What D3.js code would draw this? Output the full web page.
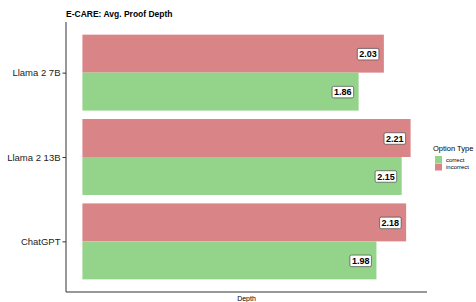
<!DOCTYPE html>
<html><head><meta charset="utf-8">
<script src="https://cdn.jsdelivr.net/npm/d3@7"></script>
<style>body{margin:0;background:#fff}</style>
</head><body>
<svg id="c" width="476" height="302"></svg>
<script>
const categories = ["Llama 2 7B", "Llama 2 13B", "ChatGPT"];
const optionTypes = ["correct", "incorrect"];
const correctValues = [1.86, 2.15, 1.98];
const incorrectValues = [2.03, 2.21, 2.18];
const colors = ["#93d48a", "#d98486"];

const data = [];
categories.forEach((c, i) => {
  data.push({cat: c, type: "incorrect", v: incorrectValues[i]});
  data.push({cat: c, type: "correct", v: correctValues[i]});
});

const svg = d3.select("#c");
const pL = 66, pR = 427, pT = 22, pB = 292;
const maxV = d3.max(data, d => d.v);
const x = d3.scaleLinear().domain([-0.05 * maxV, maxV * 1.05]).range([pL, pR]);
const unit = (pB - pT) / (categories.length - 1 + 1.2);
const y = d3.scalePoint().domain(categories).range([pT + 0.6 * unit, pB - 0.6 * unit]);
const sub = d3.scaleBand().domain(["incorrect", "correct"]).range([-0.45 * unit, 0.45 * unit]);
const color = d3.scaleOrdinal().domain(optionTypes).range(colors);

svg.append("g").selectAll("rect").data(data).join("rect")
  .attr("x", x(0))
  .attr("y", d => y(d.cat) + sub(d.type))
  .attr("width", d => x(d.v) - x(0))
  .attr("height", sub.bandwidth())
  .attr("fill", d => color(d.type));

const lg = svg.append("g").selectAll("g").data(data).join("g")
  .attr("transform", d => `translate(${x(d.v) - 7},${y(d.cat) + sub(d.type) + sub.bandwidth() / 2 + 0.5})`);
lg.each(function(d) {
  const g = d3.select(this);
  const t = g.append("text").text(d.v.toFixed(2))
    .attr("text-anchor", "end").attr("dy", "0.35em")
    .attr("font-family", "Liberation Sans, Arial, sans-serif")
    .attr("font-size", 9).attr("font-weight", "bold").attr("fill", "#000");
  const bb = t.node().getBBox();
  g.insert("rect", "text")
    .attr("x", bb.x - 2).attr("y", -5.75)
    .attr("width", bb.width + 4).attr("height", 11.5)
    .attr("rx", 1.5).attr("fill", "#fff").attr("stroke", "#333").attr("stroke-width", 0.6);
});

const yAxis = d3.axisLeft(y).tickSize(3.5).tickPadding(2);
const ya = svg.append("g").attr("transform", `translate(${pL},0)`).call(yAxis);
ya.select(".domain").attr("d", `M0,${pT}V${pB}`).attr("stroke", "#333");
ya.selectAll(".tick line").attr("stroke", "#333");
ya.selectAll("text").attr("font-family", "Liberation Sans, Arial, sans-serif")
  .attr("font-size", 9.5).attr("fill", "#222");

svg.append("line").attr("x1", pL).attr("x2", pR).attr("y1", pB).attr("y2", pB)
  .attr("stroke", "#333").attr("stroke-width", 1);

svg.append("text").text("Depth").attr("x", (pL + pR) / 2).attr("y", 300.5)
  .attr("text-anchor", "middle").attr("font-family", "Liberation Sans, Arial, sans-serif")
  .attr("font-size", 7).attr("fill", "#000");

svg.append("text").text("E-CARE: Avg. Proof Depth").attr("x", pL).attr("y", 17)
  .attr("font-family", "Liberation Sans, Arial, sans-serif")
  .attr("font-size", 8.5).attr("font-weight", "bold").attr("fill", "#000");

const leg = svg.append("g").attr("transform", "translate(433,0)");
leg.append("text").text("Option Type").attr("x", 0).attr("y", 151)
  .attr("font-family", "Liberation Sans, Arial, sans-serif").attr("font-size", 7.5).attr("fill", "#000");
optionTypes.forEach((t, i) => {
  leg.append("rect").attr("x", 2).attr("y", 156 + i * 7.5).attr("width", 7).attr("height", 7).attr("fill", color(t));
  leg.append("text").text(t).attr("x", 13).attr("y", 161.5 + i * 7.5)
    .attr("font-family", "Liberation Sans, Arial, sans-serif").attr("font-size", 6).attr("fill", "#000");
});
</script>
</body></html>
